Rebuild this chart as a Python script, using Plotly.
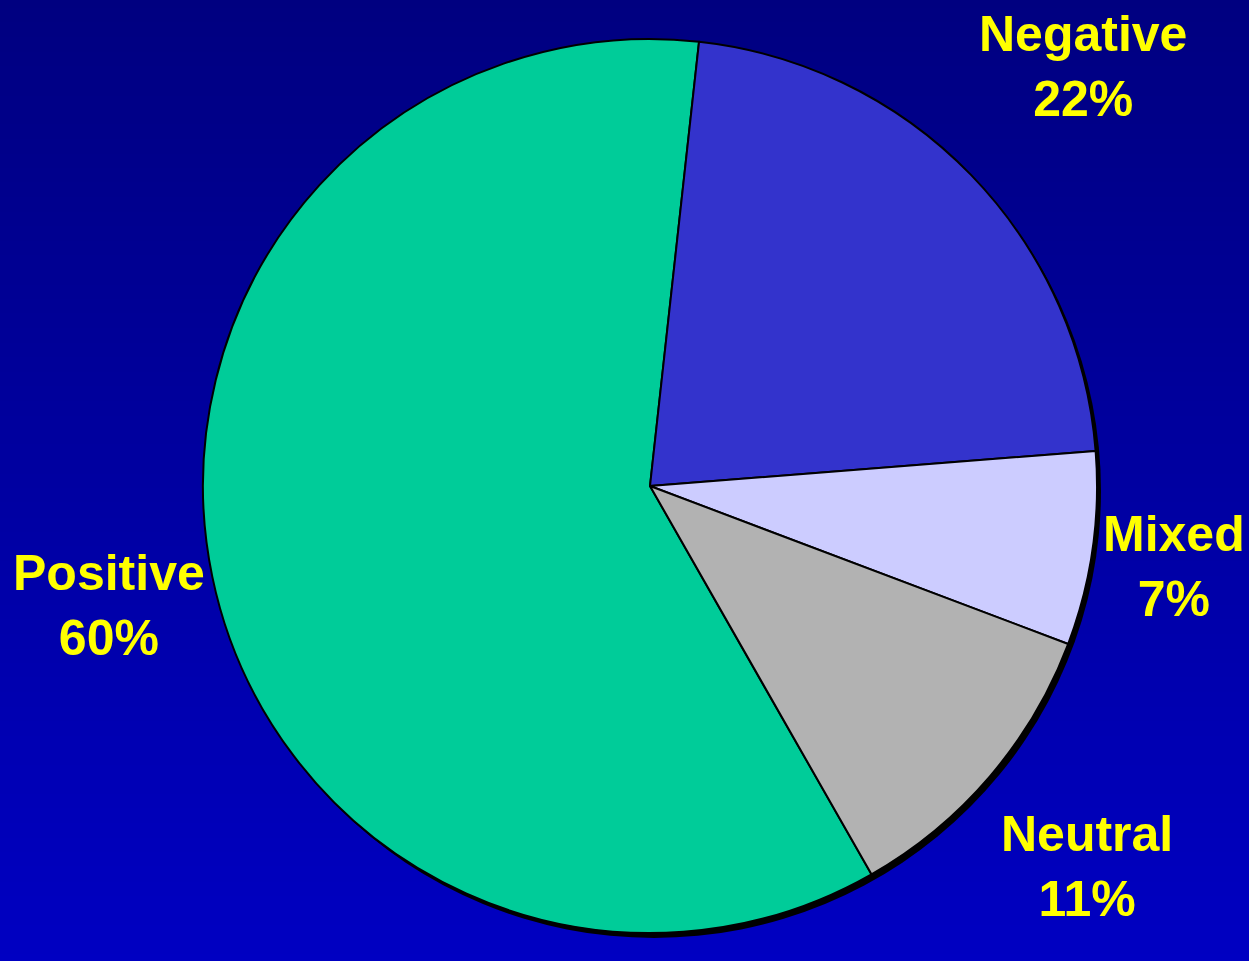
import numpy as np
import plotly.graph_objects as go

# Survey response breakdown
categories = ["Positive", "Negative", "Mixed", "Neutral"]
shares = [60, 22, 7, 11]
slice_colors = ["#00CC99", "#3333CC", "#CCCCFF", "#B2B2B2"]

W, H = 1249, 961
CX, CY, R = 650, 486, 447          # pie centre / radius in pixels
SHADOW_DX, SHADOW_DY = 4, 5         # drop-shadow offset in pixels


def pie_domain(cx, cy, r):
    return dict(
        x=[(cx - r) / W, (cx + r) / W],
        y=[(H - cy - r) / H, (H - cy + r) / H],
    )


fig = go.Figure()

# vertical gradient backdrop (navy at top, brighter blue at bottom)
n = 64
fig.add_trace(go.Heatmap(
    z=np.tile(np.linspace(0, 1, n)[:, None], (1, 2)),
    x=[0, 1],
    y=np.linspace(0, 1, n),
    colorscale=[[0, "#0000C2"], [1, "#000080"]],
    showscale=False,
    zsmooth="best",
    hoverinfo="skip",
))

# drop shadow under the pie
fig.add_trace(go.Pie(
    values=[1],
    marker=dict(colors=["#000000"], line=dict(width=0)),
    domain=pie_domain(CX + SHADOW_DX, CY + SHADOW_DY, R),
    textinfo="none",
    hoverinfo="skip",
    showlegend=False,
    sort=False,
))

fig.add_trace(go.Pie(
    labels=categories,
    values=shares,
    marker=dict(colors=slice_colors, line=dict(color="#000000", width=2)),
    domain=pie_domain(CX, CY, R),
    sort=False,
    direction="clockwise",
    rotation=150.3,
    textinfo="none",
    hoverinfo="label+percent",
    showlegend=False,
))

# label positions (paper pixels) for each category
label_pos = {
    "Positive": (109, 605),
    "Negative": (1083, 66),
    "Mixed": (1174, 566),
    "Neutral": (1087, 866),
}
for name, val in zip(categories, shares):
    px, py = label_pos[name]
    fig.add_annotation(
        x=px / W, y=1 - py / H, xref="paper", yref="paper",
        text=f"{name}<br>{val}%",
        showarrow=False, xanchor="center", yanchor="middle",
        font=dict(family="Liberation Sans, Arial, sans-serif", size=50, color="#FFFF00"),
        align="center",
    )

fig.update_xaxes(visible=False, range=[0, 1], domain=[0, 1], fixedrange=True)
fig.update_yaxes(visible=False, range=[0, 1], domain=[0, 1], fixedrange=True)
fig.update_layout(
    width=W, height=H,
    margin=dict(l=0, r=0, t=0, b=0),
    paper_bgcolor="#000080",
    plot_bgcolor="#000080",
    font=dict(family="Liberation Sans, Arial, sans-serif"),
)
fig.update_annotations(font_weight="bold")

fig.write_html("out.html")
